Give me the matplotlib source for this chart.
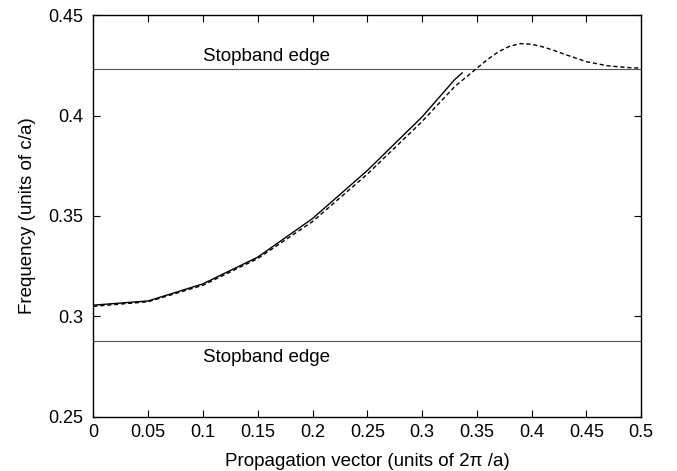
import matplotlib
matplotlib.use('Agg')
import matplotlib.pyplot as plt
import numpy as np

plt.rcParams['font.family'] = ['Liberation Sans', 'DejaVu Sans']

# stopband edges (units of c/a)
upper_edge = 0.4231
lower_edge = 0.2876

# solid curve
k_solid = [0.0, 0.05, 0.1, 0.15, 0.2, 0.25, 0.3, 0.33, 0.3367]
f_solid = [0.3056, 0.3077, 0.3162, 0.3295, 0.3487, 0.3726, 0.3993, 0.4180, 0.4212]

# dashed curve
k_dash = [0.0, 0.05, 0.1, 0.15, 0.2, 0.25, 0.3, 0.33, 0.35, 0.36, 0.37, 0.38, 0.39,
          0.40, 0.41, 0.42, 0.43, 0.45, 0.47, 0.49, 0.5]
f_dash = [0.3050, 0.3073, 0.3155, 0.3288, 0.3472, 0.3708, 0.3970, 0.4145,
          0.4235, 0.4280, 0.4318, 0.4345, 0.4358, 0.4355, 0.4342, 0.4325,
          0.4305, 0.4268, 0.4247, 0.4238, 0.4236]

fig, ax = plt.subplots(figsize=(6.77, 4.71), dpi=100)
fig.subplots_adjust(left=0.138, right=0.947, top=0.968, bottom=0.115)

ax.axhline(upper_edge, color='#555555', lw=0.8)
ax.axhline(lower_edge, color='#555555', lw=0.8)
ax.plot(k_solid, f_solid, color='black', lw=1.0)
ax.plot(k_dash, f_dash, color='black', lw=1.0, ls=(0, (3, 2)))

ax.text(0.1, upper_edge + 0.002, 'Stopband edge', fontsize=13.5, ha='left', va='bottom')
ax.text(0.1, lower_edge - 0.004, 'Stopband edge', fontsize=13.5, ha='left', va='top')

ax.set_xlim(0, 0.5)
ax.set_ylim(0.25, 0.45)
ax.set_xticks(np.arange(0, 0.51, 0.05))
ax.set_xticklabels(['0', '0.05', '0.1', '0.15', '0.2', '0.25', '0.3', '0.35', '0.4', '0.45', '0.5'])
ax.set_yticks([0.25, 0.3, 0.35, 0.4, 0.45])
ax.set_yticklabels(['0.25', '0.3', '0.35', '0.4', '0.45'])
ax.tick_params(direction='in', top=True, right=True, length=5, labelsize=13)
ax.tick_params(axis='x', pad=5)
ax.tick_params(axis='y', pad=7)
for s in ax.spines.values():
    s.set_linewidth(1.0)

ax.set_xlabel('Propagation vector (units of 2π /a)', fontsize=13.5, labelpad=8.5)
ax.set_ylabel('Frequency (units of c/a)', fontsize=13.5, labelpad=9)

fig.savefig('out.png', dpi=100)
